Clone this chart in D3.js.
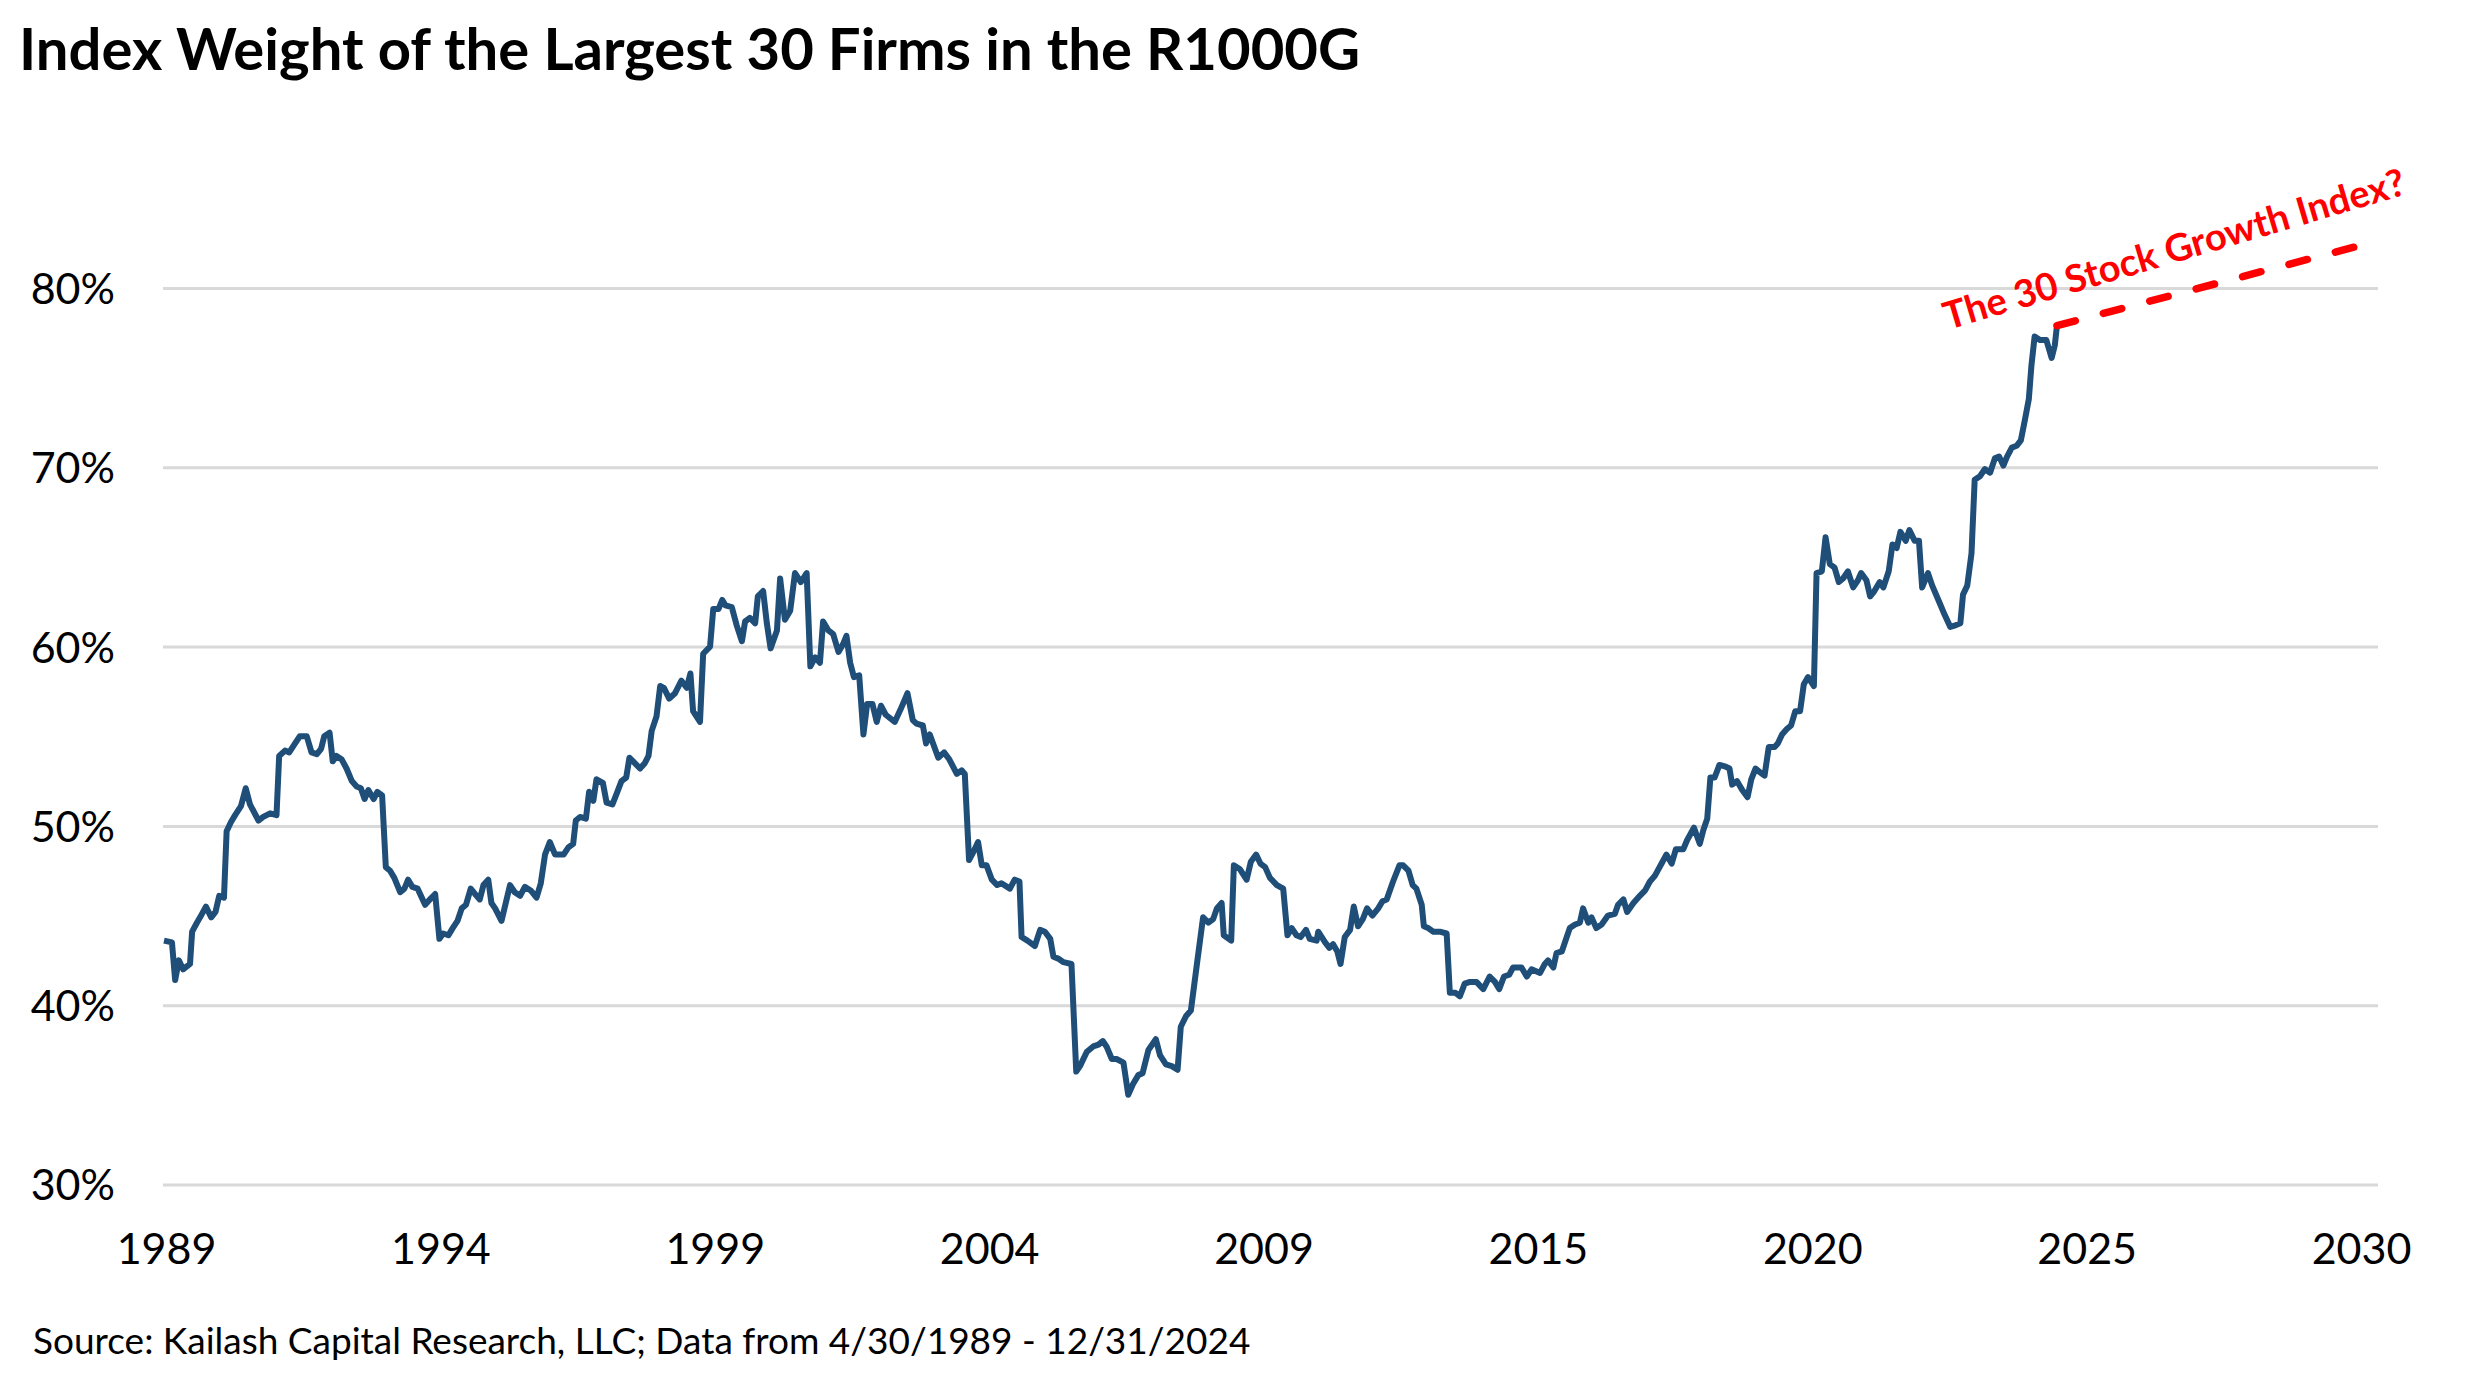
<!DOCTYPE html>
<html>
<head>
<meta charset="utf-8">
<script src="https://cdn.jsdelivr.net/npm/d3@7"></script>
<style>
  body { margin: 0; background: #fff; }
  svg { display: block; font-family: Lato, "Open Sans", sans-serif; }
</style>
</head>
<body>
<svg id="chart"></svg>
<script>
//======= data =======//
let dates = [
  1989.25, 1989.40, 1989.46, 1989.53, 1989.61, 1989.74, 1989.78, 1989.87, 1989.93, 1990.04,
  1990.14, 1990.22, 1990.29, 1990.38, 1990.43, 1990.51, 1990.59, 1990.70, 1990.79, 1990.87,
  1991.03, 1991.12, 1991.25, 1991.37, 1991.42, 1991.53, 1991.61, 1991.72, 1991.81, 1991.94,
  1992.03, 1992.13, 1992.21, 1992.27, 1992.37, 1992.43, 1992.50, 1992.60, 1992.69, 1992.79,
  1992.88, 1992.96, 1993.03, 1993.10, 1993.20, 1993.27, 1993.36, 1993.43, 1993.51, 1993.59,
  1993.70, 1993.78, 1993.85, 1993.93, 1994.03, 1994.17, 1994.26, 1994.36, 1994.44, 1994.51,
  1994.61, 1994.69, 1994.78, 1994.86, 1994.94, 1995.03, 1995.14,
  1995.20, 1995.27, 1995.36, 1995.42, 1995.49, 1995.61, 1995.69, 1995.77, 1995.86, 1995.96,
  1996.05, 1996.16, 1996.27, 1996.35, 1996.43, 1996.52, 1996.62, 1996.78, 1996.87, 1996.96,
  1997.01, 1997.09, 1997.20, 1997.26, 1997.34, 1997.40, 1997.52, 1997.59, 1997.70, 1997.78,
  1997.87, 1997.96, 1998.02, 1998.09, 1998.22, 1998.31, 1998.38, 1998.44, 1998.53, 1998.60,
  1998.67, 1998.77, 1998.88, 1999.00, 1999.10, 1999.17, 1999.22, 1999.35, 1999.41, 1999.54,
  1999.60, 1999.70, 1999.77, 1999.83, 1999.95, 2000.04, 2000.14, 2000.20, 2000.29, 2000.39,
  2000.44, 2000.54, 2000.61, 2000.68, 2000.80, 2000.86, 2000.95, 2001.05, 2001.14,
  2001.25, 2001.36, 2001.43, 2001.52, 2001.61, 2001.67, 2001.77, 2001.86, 2001.96, 2002.04,
  2002.11, 2002.18, 2002.25, 2002.35, 2002.43, 2002.50, 2002.60, 2002.68, 2002.76, 2002.85,
  2003.02, 2003.13, 2003.26, 2003.36, 2003.43, 2003.55, 2003.61, 2003.68, 2003.84, 2003.95,
  2004.05, 2004.19, 2004.28, 2004.34, 2004.42, 2004.51, 2004.59, 2004.66, 2004.75, 2004.85,
  2004.95, 2005.03, 2005.19, 2005.28, 2005.37, 2005.41, 2005.52, 2005.66, 2005.76, 2005.85,
  2005.95, 2006.01, 2006.10, 2006.20, 2006.35,
  2006.44, 2006.51, 2006.64, 2006.76, 2006.86, 2006.94, 2007.01, 2007.11, 2007.20, 2007.33,
  2007.42, 2007.51, 2007.61, 2007.69, 2007.80, 2007.94, 2008.02, 2008.13, 2008.24, 2008.35,
  2008.41, 2008.51, 2008.60, 2008.71, 2008.83, 2008.93, 2009.02, 2009.09, 2009.18, 2009.22,
  2009.36, 2009.41, 2009.52, 2009.65, 2009.73, 2009.83, 2009.91, 2010.00, 2010.09, 2010.22,
  2010.34, 2010.42, 2010.50, 2010.59, 2010.67, 2010.77, 2010.84, 2010.97, 2011.00, 2011.13,
  2011.21, 2011.28, 2011.36, 2011.42, 2011.50, 2011.60, 2011.67, 2011.75, 2011.84, 2011.92,
  2012.02, 2012.13, 2012.21, 2012.29, 2012.41,
  2012.53, 2012.60, 2012.70, 2012.78, 2012.85, 2012.95, 2012.99, 2013.07, 2013.17, 2013.29,
  2013.42, 2013.48, 2013.58, 2013.67, 2013.76, 2013.86, 2013.98, 2014.11, 2014.23, 2014.33,
  2014.41, 2014.50, 2014.60, 2014.67, 2014.83, 2014.93, 2015.02, 2015.18, 2015.27, 2015.33,
  2015.43, 2015.49, 2015.59, 2015.74, 2015.84, 2015.93, 2015.99, 2016.09, 2016.15, 2016.24,
  2016.34, 2016.46, 2016.59, 2016.65, 2016.75, 2016.82, 2016.94, 2017.06, 2017.16, 2017.25,
  2017.34, 2017.47, 2017.56, 2017.66, 2017.74, 2017.88, 2017.95, 2018.08,
  2018.19, 2018.26, 2018.33, 2018.39, 2018.47, 2018.56, 2018.68, 2018.75, 2018.80, 2018.89,
  2018.99, 2019.09, 2019.16, 2019.24, 2019.32, 2019.41, 2019.49, 2019.60, 2019.66, 2019.74,
  2019.83, 2019.91, 2019.99, 2020.08, 2020.15, 2020.23, 2020.34, 2020.39, 2020.49, 2020.56,
  2020.64, 2020.73, 2020.81, 2020.89, 2020.98, 2021.08, 2021.17, 2021.23, 2021.33, 2021.40,
  2021.48, 2021.58, 2021.65, 2021.75, 2021.82, 2021.90, 2021.97, 2022.07, 2022.14, 2022.24,
  2022.32, 2022.38, 2022.49, 2022.57, 2022.70, 2022.80, 2022.91, 2023.02, 2023.10,
  2023.15, 2023.23, 2023.31, 2023.37, 2023.47, 2023.56, 2023.66, 2023.75, 2023.83, 2023.91,
  2023.98, 2024.07, 2024.16, 2024.24, 2024.32, 2024.39, 2024.44, 2024.50, 2024.60, 2024.72,
  2024.82, 2024.88, 2024.92
];

let weights = [
  43.6, 43.5, 41.4, 42.5, 42.0, 42.3, 44.1, 44.6, 44.9, 45.5,
  44.9, 45.2, 46.1, 46.0, 49.7, 50.2, 50.6, 51.1, 52.1, 51.2,
  50.3, 50.5, 50.7, 50.6, 53.9, 54.2, 54.1, 54.6, 55.0, 55.0,
  54.1, 54.0, 54.3, 55.0, 55.2, 53.6, 53.9, 53.7, 53.2, 52.5,
  52.2, 52.1, 51.5, 52.0, 51.5, 51.9, 51.7, 47.7, 47.5, 47.1,
  46.3, 46.5, 47.0, 46.6, 46.5, 45.6, 45.9, 46.2, 43.7, 44.0,
  43.9, 44.3, 44.7, 45.4, 45.6, 46.5, 46.1,
  45.9, 46.7, 47.0, 45.7, 45.4, 44.7, 45.7, 46.7, 46.3, 46.1,
  46.6, 46.4, 46.0, 46.8, 48.4, 49.1, 48.4, 48.4, 48.8, 49.0,
  50.3, 50.5, 50.4, 51.9, 51.4, 52.6, 52.4, 51.3, 51.2, 51.8,
  52.5, 52.7, 53.8, 53.6, 53.2, 53.5, 53.9, 55.3, 56.1, 57.8,
  57.7, 57.1, 57.4, 58.1, 57.7, 58.5, 56.4, 55.8, 59.6, 60.0,
  62.1, 62.1, 62.6, 62.3, 62.2, 61.2, 60.3, 61.4, 61.6, 61.3,
  62.8, 63.1, 61.3, 59.9, 60.9, 63.8, 61.5, 62.0, 64.1,
  63.6, 64.1, 58.9, 59.4, 59.1, 61.4, 60.9, 60.7, 59.7, 60.1,
  60.6, 59.1, 58.3, 58.4, 55.1, 56.8, 56.8, 55.8, 56.7, 56.2,
  55.8, 56.5, 57.4, 55.9, 55.7, 55.6, 54.6, 55.1, 53.8, 54.1,
  53.7, 52.9, 53.1, 52.9, 48.1, 48.6, 49.1, 47.8, 47.8, 47.0,
  46.7, 46.8, 46.5, 47.0, 46.9, 43.8, 43.6, 43.3, 44.2, 44.1,
  43.7, 42.7, 42.6, 42.4, 42.3,
  36.3, 36.6, 37.4, 37.7, 37.8, 38.0, 37.7, 37.0, 37.0, 36.8,
  35.0, 35.6, 36.1, 36.2, 37.5, 38.1, 37.2, 36.7, 36.6, 36.4,
  38.8, 39.4, 39.7, 42.2, 44.9, 44.6, 44.8, 45.4, 45.7, 43.9,
  43.6, 47.8, 47.6, 47.0, 48.0, 48.4, 47.9, 47.7, 47.1, 46.7,
  46.5, 43.9, 44.3, 43.9, 43.8, 44.2, 43.7, 43.6, 44.1, 43.5,
  43.2, 43.4, 43.0, 42.3, 43.8, 44.2, 45.5, 44.4, 44.8, 45.4,
  45.0, 45.4, 45.8, 45.9, 46.9,
  47.8, 47.8, 47.5, 46.7, 46.5, 45.6, 44.4, 44.3, 44.1, 44.1,
  44.0, 40.7, 40.7, 40.5, 41.2, 41.3, 41.3, 40.9, 41.6, 41.3,
  40.9, 41.6, 41.7, 42.1, 42.1, 41.6, 42.0, 41.8, 42.3, 42.5,
  42.1, 42.9, 43.0, 44.3, 44.5, 44.6, 45.4, 44.6, 44.9, 44.3,
  44.5, 45.0, 45.1, 45.6, 45.9, 45.2, 45.7, 46.1, 46.4, 46.9,
  47.2, 47.9, 48.4, 47.9, 48.7, 48.7, 49.2, 49.9,
  49.0, 49.8, 50.4, 52.7, 52.7, 53.4, 53.3, 53.2, 52.3, 52.5,
  52.0, 51.6, 52.6, 53.2, 53.0, 52.8, 54.4, 54.4, 54.6, 55.1,
  55.4, 55.6, 56.4, 56.4, 57.9, 58.3, 57.8, 64.1, 64.2, 66.1,
  64.6, 64.4, 63.6, 63.8, 64.2, 63.3, 63.7, 64.1, 63.7, 62.8,
  63.1, 63.6, 63.3, 64.2, 65.7, 65.5, 66.4, 65.9, 66.5, 65.9,
  65.9, 63.3, 64.1, 63.4, 62.5, 61.8, 61.1, 61.2, 61.3,
  62.9, 63.4, 65.2, 69.3, 69.5, 69.9, 69.7, 70.5, 70.6, 70.1,
  70.6, 71.1, 71.2, 71.5, 72.7, 73.8, 75.7, 77.3, 77.1, 77.1,
  76.1, 76.8, 77.9
];

// dashed projection after the last month
let trendDates = [2024.92, 2030.8];
let trendWeights = [77.9, 82.5];

let yTicks = [30, 40, 50, 60, 70, 80];
let xTickLabels = ['1989', '1994', '1999', '2004', '2009', '2015', '2020', '2025', '2030'];
let xAxisEnd = 2030.97;

//======= chart =======//
let width = 2475;
let height = 1386;
let plot = { left: 163, right: 2378, top: 288, bottom: 1184.5 };

let svg = d3.select('#chart')
  .attr('width', width)
  .attr('height', height);

let x = d3.scaleLinear()
  .domain([d3.min(dates), xAxisEnd])
  .range([plot.left + 1, plot.right]);

let xLabels = d3.scalePoint()
  .domain(xTickLabels)
  .range([166, 2361]);

let y = d3.scaleLinear()
  .domain([30, 80])
  .range([plot.bottom, plot.top]);

// gridlines
let grid = svg.append('g')
  .attr('transform', 'translate(' + plot.left + ',0)')
  .call(d3.axisRight(y).tickValues(yTicks).tickSize(plot.right - plot.left).tickFormat(''));
grid.select('.domain').remove();
grid.selectAll('line').attr('stroke', '#d9d9d9').attr('stroke-width', 3);

// y labels
let yAxis = svg.append('g')
  .attr('transform', 'translate(115,0)')
  .call(d3.axisLeft(y).tickValues(yTicks).tickSize(0).tickPadding(0).tickFormat(d => d + '%'));
yAxis.select('.domain').remove();
yAxis.selectAll('text')
  .attr('font-family', 'Lato, sans-serif')
  .attr('font-size', 43)
  .attr('fill', '#000')
  .attr('dy', '0.36em');

// x labels
let xAxis = svg.append('g')
  .attr('transform', 'translate(0,1264)')
  .call(d3.axisBottom(xLabels).tickSize(0));
xAxis.select('.domain').remove();
xAxis.selectAll('text')
  .attr('y', 0)
  .attr('dy', 0)
  .attr('font-family', 'Lato, sans-serif')
  .attr('font-size', 43)
  .attr('fill', '#000');

// main line
let series = d3.zip(dates, weights);
svg.append('path')
  .datum(series)
  .attr('fill', 'none')
  .attr('stroke', '#1f4e79')
  .attr('stroke-width', 6)
  .attr('stroke-linejoin', 'round')
  .attr('d', d3.line()
    .x(d => x(d[0]))
    .y(d => y(d[1])));

// projection
svg.append('path')
  .datum(d3.zip(trendDates, trendWeights))
  .attr('fill', 'none')
  .attr('stroke', '#ff0000')
  .attr('stroke-width', 7.5)
  .attr('stroke-linecap', 'round')
  .attr('stroke-dasharray', '19,29')
  .attr('d', d3.line()
    .x(d => x(d[0]))
    .y(d => y(d[1])));

svg.append('text')
  .attr('transform', 'translate(1948,330) rotate(-16.5)')
  .attr('font-size', 38)
  .attr('font-weight', 'bold')
  .attr('fill', '#ff0000')
  .text('The 30 Stock Growth Index?');

// title and source
svg.append('text')
  .attr('x', 19)
  .attr('y', 70)
  .attr('font-size', 58)
  .attr('font-weight', 'bold')
  .attr('fill', '#000')
  .text('Index Weight of the Largest 30 Firms in the R1000G');

svg.append('text')
  .attr('x', 33)
  .attr('y', 1354)
  .attr('font-size', 37)
  .attr('fill', '#000')
  .text('Source: Kailash Capital Research, LLC; Data from 4/30/1989 - 12/31/2024');
</script>
</body>
</html>
